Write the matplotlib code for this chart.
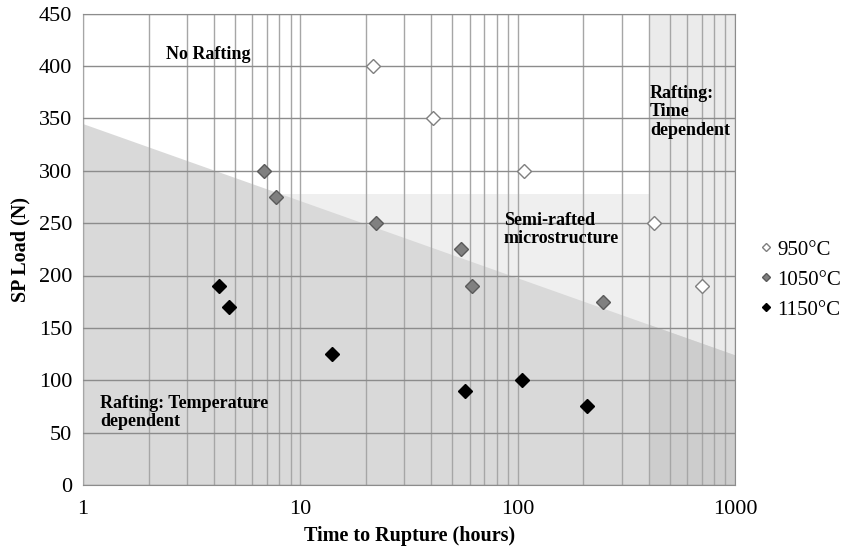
import numpy as np
import matplotlib
matplotlib.use('Agg')
import matplotlib.pyplot as plt
from matplotlib.ticker import LogLocator, FixedLocator, NullFormatter

plt.rcParams['font.family'] = ['Liberation Serif', 'DejaVu Serif']

# Data
t_950 = [21.5, 40.6, 107, 423, 705]
load_950 = [400, 350, 300, 250, 190]
t_1050 = [6.8, 7.75, 22.2, 54.6, 61.4, 246]
load_1050 = [300, 275, 250, 225, 190, 175]
t_1150 = [4.24, 4.71, 13.9, 57, 104, 208]
load_1150 = [190, 170, 125, 90, 100, 75]

# Region boundaries
temp_line_x = [1, 1000]
temp_line_y = [345, 124]
semi_top = 278
time_dep_start = 400

fig = plt.figure(figsize=(8.48, 5.51), dpi=100)
ax = fig.add_axes([0.098, 0.12, 0.769, 0.855])
ax.set_xscale('log')
ax.set_xlim(1, 1000)
ax.set_ylim(0, 450)

# shaded regions
ax.axvspan(time_dep_start, 1000, color='#ebebeb', zorder=0, lw=0)
ax.fill_between([1, 1000], 0, semi_top, color='#efefef', zorder=0.5, lw=0)
ax.axvspan(time_dep_start, 1000, ymax=semi_top / 450, color='#ebebeb', zorder=0.6, lw=0)
xs = np.logspace(0, 3, 50)
ys = np.interp(np.log10(xs), np.log10(temp_line_x), temp_line_y)
ax.fill_between(xs, 0, ys, color='#d9d9d9', zorder=0.7, lw=0)
mask = xs >= time_dep_start
xs2 = np.concatenate([[time_dep_start], xs[mask]])
ys2 = np.interp(np.log10(xs2), np.log10(temp_line_x), temp_line_y)
ax.fill_between(xs2, 0, ys2, color='#cdcdcd', zorder=0.8, lw=0)

# grid
ax.xaxis.set_major_locator(FixedLocator([1, 10, 100, 1000]))
ax.xaxis.set_minor_locator(LogLocator(base=10, subs=np.arange(2, 10)))
ax.xaxis.set_minor_formatter(NullFormatter())
ax.set_xticklabels(['1', '10', '100', '1000'])
ax.set_yticks(np.arange(0, 451, 50))
ax.grid(True, which='both', axis='x', color='#a6a6a6', lw=1, zorder=1)
ax.grid(True, which='major', axis='y', color='#8c8c8c', lw=1, zorder=1)
ax.set_axisbelow(False)
for sp in ax.spines.values():
    sp.set_color('#8c8c8c')
ax.tick_params(which='both', length=0, labelsize=16, pad=8)
ax.tick_params(axis='x', pad=11)

ax.plot(t_950, load_950, 'D', ms=7.5, mfc='white', mec='#7f7f7f', mew=1, label='950°C', zorder=3)
ax.plot(t_1050, load_1050, 'D', ms=7.5, mfc='#808080', mec='#5a5a5a', mew=1, label='1050°C', zorder=3)
ax.plot(t_1150, load_1150, 'D', ms=7.5, mfc='black', mec='black', mew=1, label='1150°C', zorder=3)

ax.text(2.4, 411, 'No Rafting', fontsize=13, fontweight='bold', va='center', zorder=4)
ax.text(405, 382, 'Rafting:\nTime\ndependent', fontsize=13, fontweight='bold', va='top',
        linespacing=1.1, zorder=4)
ax.text(86, 244, 'Semi-rafted\nmicrostructure', fontsize=13, fontweight='bold', va='center',
        linespacing=1.1, zorder=4)
ax.text(1.2, 69, 'Rafting: Temperature\ndependent', fontsize=13, fontweight='bold', va='center',
        linespacing=1.1, zorder=4)

ax.set_xlabel('Time to Rupture (hours)', fontsize=14.5, fontweight='bold', labelpad=5)
ax.set_ylabel('SP Load (N)', fontsize=14.5, fontweight='bold', labelpad=6)

ax.legend(loc='center left', bbox_to_anchor=(1.0, 0.435), frameon=False, fontsize=15,
          handletextpad=-0.1, handlelength=1.2, markerscale=0.6, labelspacing=0.5)

fig.savefig('out.png', dpi=100)
